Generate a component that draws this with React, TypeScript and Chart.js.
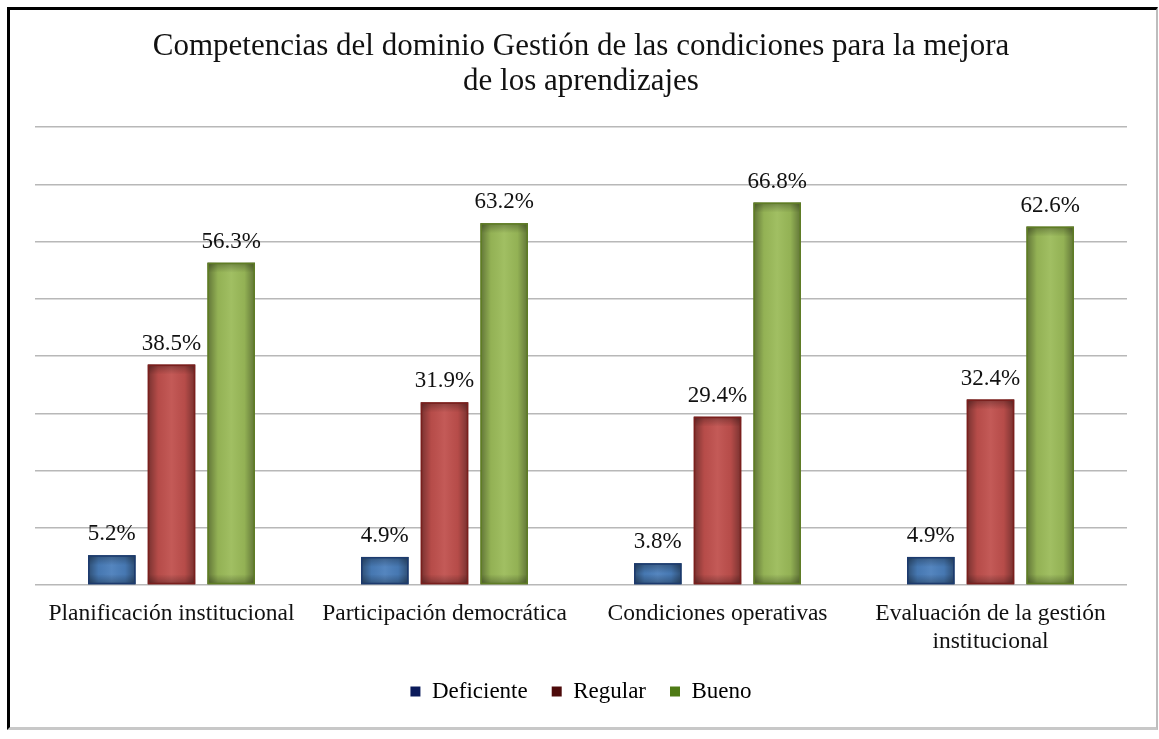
import React, { useEffect, useRef } from "react";
import { Chart, registerables } from "chart.js";

Chart.register(...registerables);

const TITLE_LINES = [
  "Competencias del dominio Gestión de las condiciones para la mejora",
  "de los aprendizajes",
];
const CATEGORIES: (string | string[])[] = [
  "Planificación institucional",
  "Participación democrática",
  "Condiciones operativas",
  ["Evaluación de la gestión", "institucional"],
];
const SERIES_NAMES = ["Deficiente", "Regular", "Bueno"];
const DEFICIENTE = [5.2, 4.9, 3.8, 4.9];
const REGULAR = [38.5, 31.9, 29.4, 32.4];
const BUENO = [56.3, 63.2, 66.8, 62.6];

const FILL_COLORS = ["#4a7ebb", "#c0504d", "#9bbb59"];
const EDGE_COLORS = ["#1c3a6e", "#7a1f1d", "#5f7d24"];
const LEGEND_COLORS = ["#0b1a5a", "#4d0a0a", "#4e7a15"];

const FONT = "'Liberation Serif', 'Times New Roman', serif";

const barShadePlugin = {
  id: "barShade",
  afterDatasetsDraw(chart: any) {
    const ctx = chart.ctx as CanvasRenderingContext2D;
    chart.data.datasets.forEach((ds: any, di: number) => {
      const meta = chart.getDatasetMeta(di);
      if (meta.hidden) return;
      meta.data.forEach((el: any, i: number) => {
        const { x, y, base, width } = el.getProps(["x", "y", "base", "width"], true);
        const left = x - width / 2;
        const top = Math.min(y, base);
        const h = Math.abs(base - y);
        ctx.save();
        const gh = ctx.createLinearGradient(left, 0, left + width, 0);
        gh.addColorStop(0, "rgba(0,0,0,0.38)");
        gh.addColorStop(0.22, "rgba(0,0,0,0.05)");
        gh.addColorStop(0.5, "rgba(255,255,255,0.06)");
        gh.addColorStop(0.78, "rgba(0,0,0,0.05)");
        gh.addColorStop(1, "rgba(0,0,0,0.38)");
        ctx.fillStyle = gh;
        ctx.fillRect(left, top, width, h);
        const edge = Math.min(10, h / 2);
        const gv = ctx.createLinearGradient(0, top, 0, top + edge);
        gv.addColorStop(0, "rgba(0,0,0,0.3)");
        gv.addColorStop(1, "rgba(0,0,0,0)");
        ctx.fillStyle = gv;
        ctx.fillRect(left, top, width, edge);
        const gb = ctx.createLinearGradient(0, top + h - edge, 0, top + h);
        gb.addColorStop(0, "rgba(0,0,0,0)");
        gb.addColorStop(1, "rgba(0,0,0,0.3)");
        ctx.fillStyle = gb;
        ctx.fillRect(left, top + h - edge, width, edge);
        ctx.strokeStyle = EDGE_COLORS[di];
        ctx.lineWidth = 1.5;
        ctx.strokeRect(left + 0.75, top + 0.75, width - 1.5, h - 1.5);
        ctx.fillStyle = "#111";
        ctx.font = `23px ${FONT}`;
        ctx.textAlign = "center";
        ctx.textBaseline = "alphabetic";
        const v = ds.data[i] as number;
        ctx.fillText(v.toFixed(1) + "%", x, top - 15);
        ctx.restore();
      });
    });
  },
};

export default function App() {
  const canvasRef = useRef<HTMLCanvasElement | null>(null);

  useEffect(() => {
    if (!canvasRef.current) return;
    const seriesData = [DEFICIENTE, REGULAR, BUENO];
    const chart = new Chart(canvasRef.current, {
      type: "bar",
      data: {
        labels: CATEGORIES as any,
        datasets: SERIES_NAMES.map((name, k) => ({
          label: name,
          data: seriesData[k],
          backgroundColor: FILL_COLORS[k],
          borderWidth: 0,
          categoryPercentage: 0.656,
          barPercentage: 0.795,
        })),
      },
      options: {
        animation: false,
        responsive: false,
        maintainAspectRatio: false,
        layout: { padding: { left: 35, right: 32, top: 0, bottom: 26 } },
        plugins: {
          title: {
            display: true,
            text: TITLE_LINES,
            color: "#111",
            font: { family: FONT, size: 31, weight: "normal", lineHeight: 34.5 / 31 },
            padding: { top: 30, bottom: 28 },
          },
          legend: {
            display: true,
            position: "bottom",
            labels: {
              color: "#111",
              font: { family: FONT, size: 23 },
              boxWidth: 10,
              boxHeight: 10,
              padding: 24,
              generateLabels: (c: any) =>
                c.data.datasets.map((ds: any, i: number) => ({
                  text: ds.label,
                  fillStyle: LEGEND_COLORS[i],
                  strokeStyle: LEGEND_COLORS[i],
                  lineWidth: 0,
                  hidden: !c.isDatasetVisible(i),
                  datasetIndex: i,
                })),
            },
          },
          tooltip: { enabled: false },
        },
        scales: {
          x: {
            grid: { display: false, drawTicks: false },
            border: { display: false },
            ticks: {
              color: "#111",
              font: { family: FONT, size: 23.5, lineHeight: 28 / 23.5 },
              padding: 15,
              maxRotation: 0,
              autoSkip: false,
            },
            afterFit: (scale: any) => {
              scale.height = scale.height - 15;
            },
          },
          y: {
            min: 0,
            max: 80,
            grid: { color: "#b8b8b8", lineWidth: 1.5, drawTicks: false },
            border: { display: false },
            ticks: { display: false, stepSize: 10 },
          },
        },
      },
      plugins: [barShadePlugin],
    });
    return () => chart.destroy();
  }, []);

  return (
    <div style={{ position: "absolute", left: 0, top: 0, width: 1159, height: 739, background: "#fff" }}>
      <canvas ref={canvasRef} width={1159} height={739} style={{ position: "absolute", left: 0, top: 0, width: 1159, height: 739 }} />
      <div
        style={{
          position: "absolute",
          left: 7,
          top: 7,
          width: 1151,
          height: 723,
          boxSizing: "border-box",
          borderTop: "3px solid #000",
          borderLeft: "3px solid #000",
          borderRight: "2px solid #bdbdbd",
          borderBottom: "3px solid #c8c8c8",
          pointerEvents: "none",
        }}
      />
    </div>
  );
}
